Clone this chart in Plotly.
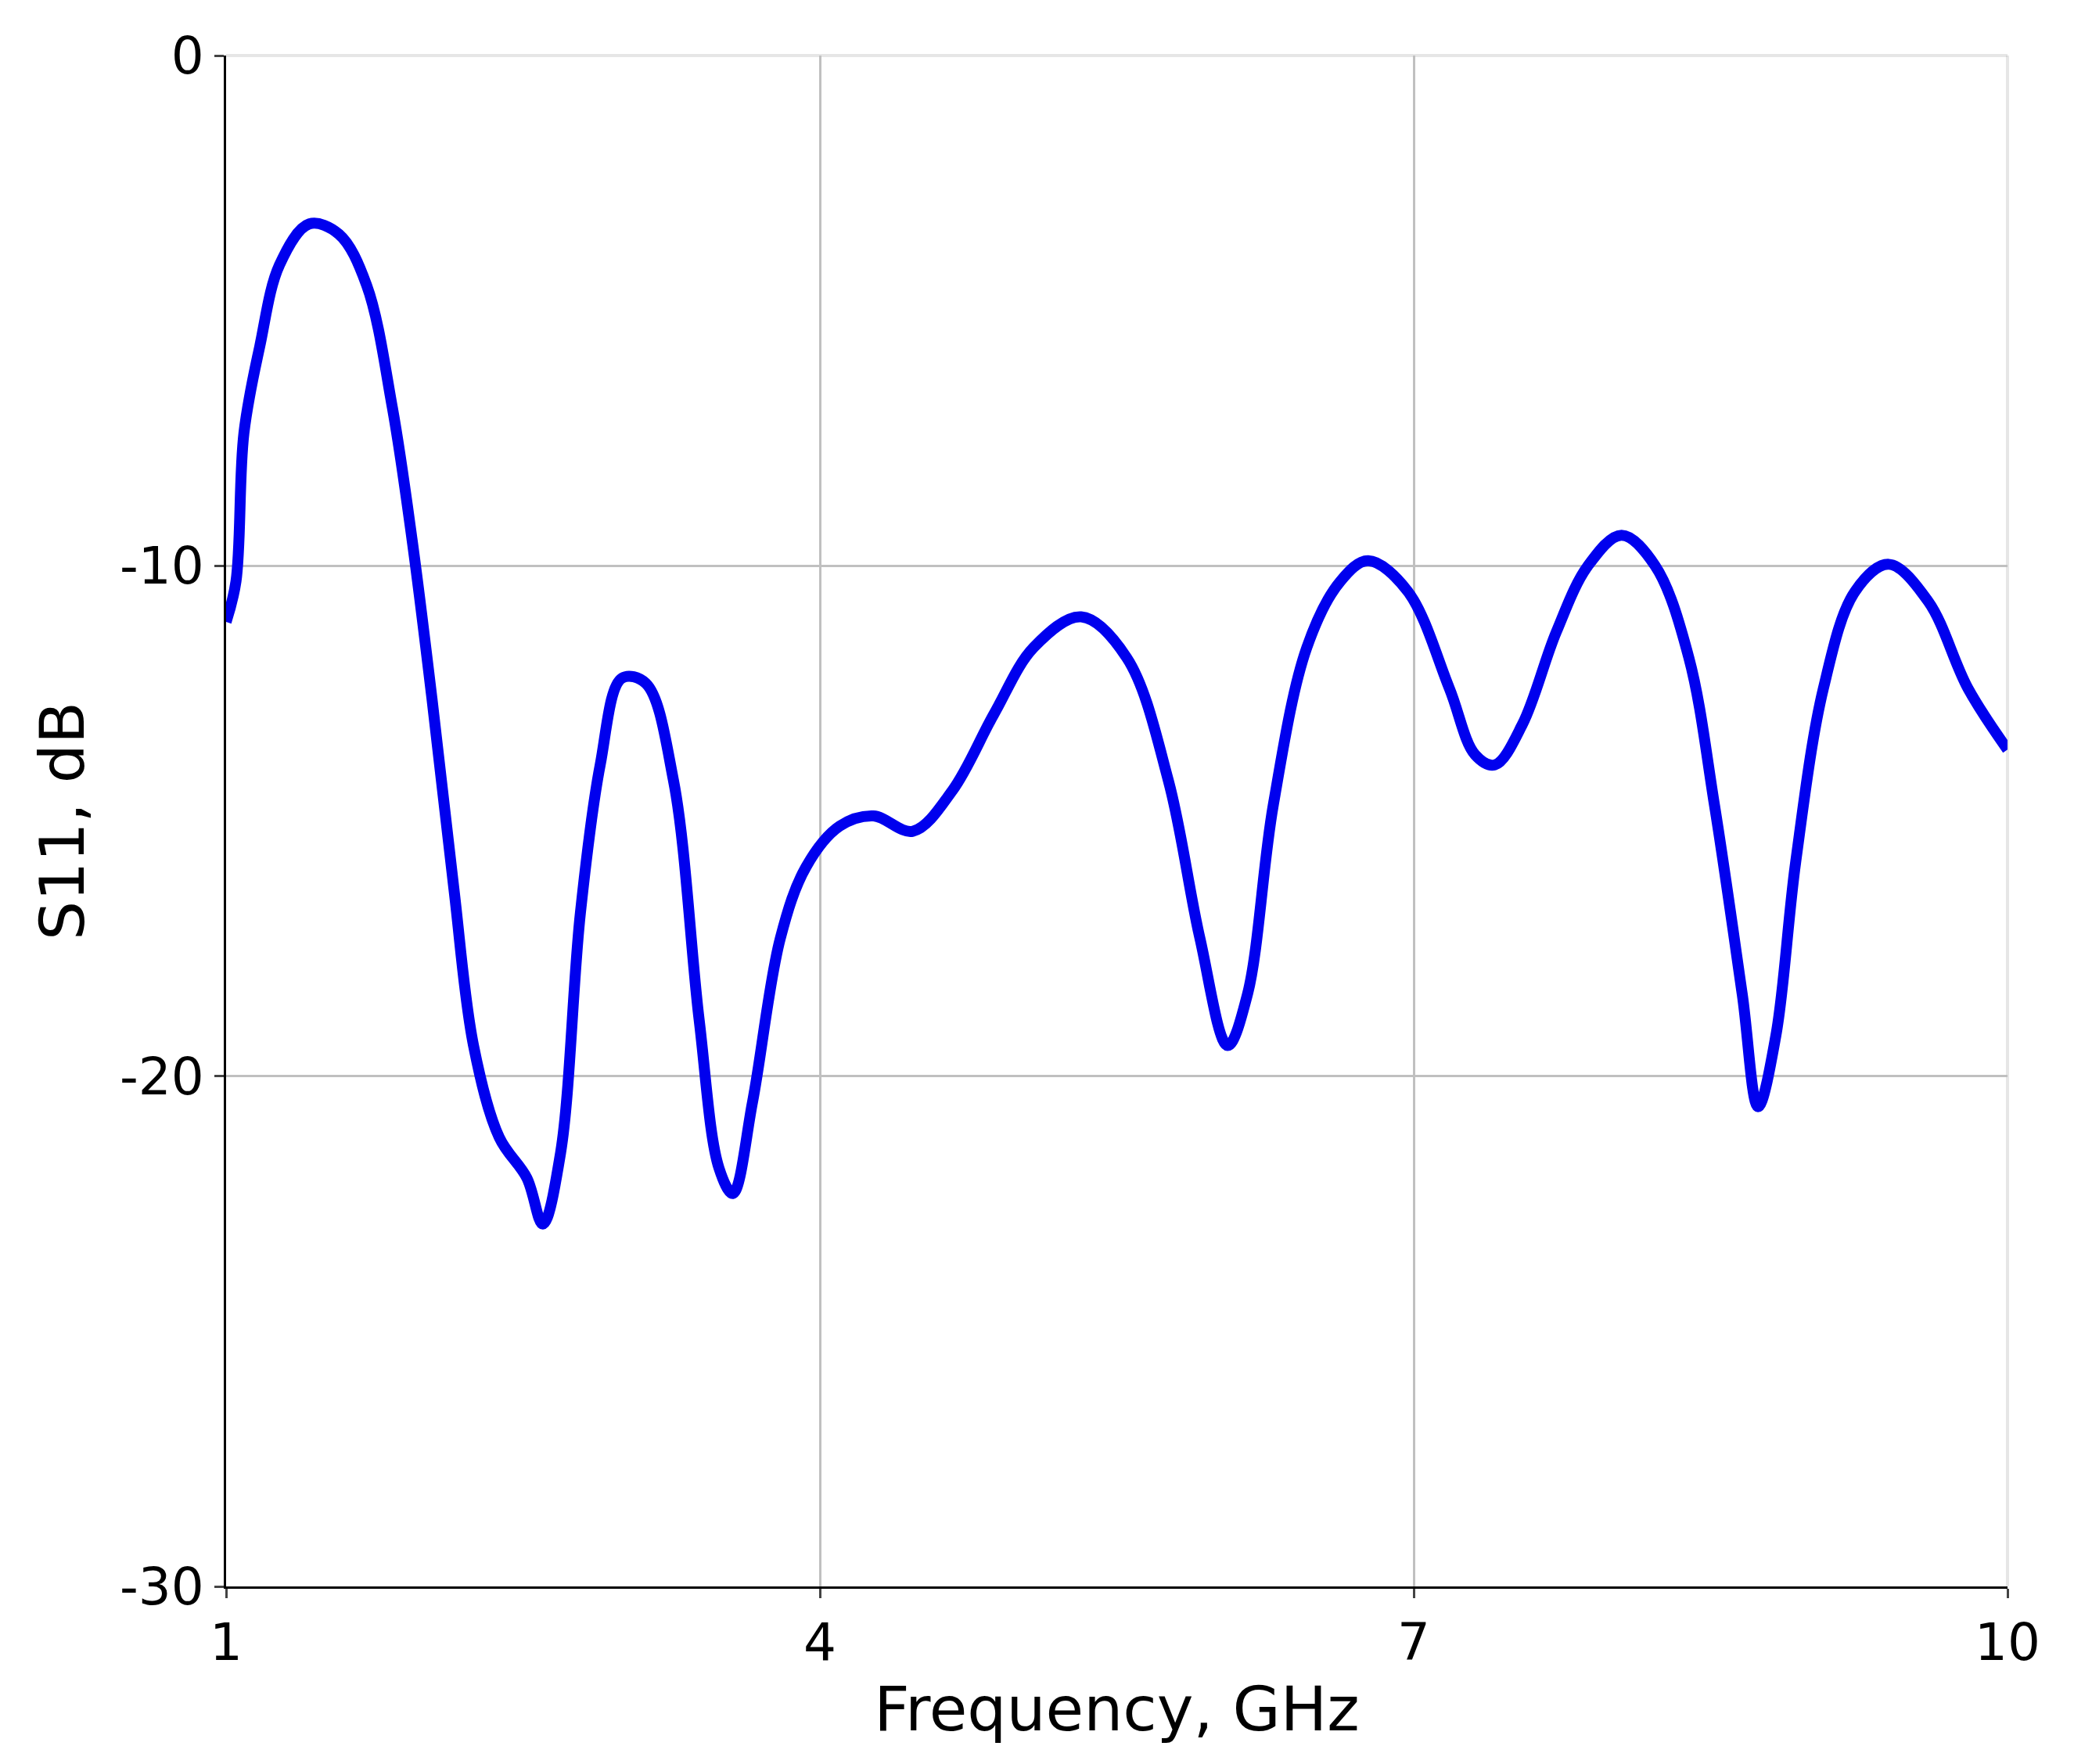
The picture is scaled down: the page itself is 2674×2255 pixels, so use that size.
import plotly.graph_objects as go

freq = [1.0, 1.05, 1.09, 1.17, 1.27, 1.42, 1.57, 1.71, 1.84, 1.94, 2.04, 2.15, 2.25, 2.38, 2.52, 2.6,
        2.69, 2.79, 2.89, 3.0, 3.12, 3.26, 3.39, 3.49, 3.56, 3.66, 3.8, 3.93, 4.1, 4.27, 4.47, 4.67,
        4.88, 5.08, 5.32, 5.55, 5.76, 5.92, 6.06, 6.16, 6.29, 6.46, 6.63, 6.77, 6.97, 7.18, 7.31,
        7.41, 7.55, 7.72, 7.88, 8.05, 8.22, 8.39, 8.52, 8.66, 8.74, 8.83, 8.93, 9.07, 9.23, 9.4,
        9.6, 9.8, 10.0]
s11 = [-11.1, -10.3, -7.4, -5.7, -4.1, -3.3, -3.5, -4.5, -6.9, -9.5, -12.6, -16.3, -19.4, -21.2, -22.0, -22.9,
       -21.5, -16.8, -13.9, -12.2, -12.3, -14.2, -18.9, -21.8, -22.3, -20.5, -17.3, -15.9, -15.1, -14.9, -15.2, -14.4,
       -12.9, -11.6, -11.0, -11.8, -14.2, -17.3, -19.4, -18.4, -14.7, -11.6, -10.3, -9.9, -10.5, -12.4, -13.7,
       -13.9, -13.1, -11.3, -10.0, -9.4, -10.0, -11.8, -14.7, -18.4, -20.6, -19.2, -15.8, -12.4, -10.5, -9.97,
       -10.7, -12.4, -13.6]
y_ticks = [0, -10, -20, -30]
y_labels = ['0', '-10', '-20', '-30']

fig = go.Figure(go.Scatter(x=freq, y=s11, mode='lines', line=dict(color='#0000ee', width=14, shape='spline')))

font = dict(family='DejaVu Sans', size=66, color='black')
fig.update_layout(
    width=2674, height=2255, template='simple_white', showlegend=False,
    margin=dict(l=281, r=116, t=63, b=235),
    font=font, plot_bgcolor='white', paper_bgcolor='white',
)
fig.update_xaxes(range=[1, 10], tickvals=[1, 4, 7, 10], showgrid=True, gridcolor='#c0c0c0', gridwidth=3,
                 linecolor='black', linewidth=3, ticks='outside', ticklen=12, tickwidth=3,
                 title=dict(text='Frequency, GHz', standoff=20))
fig.update_yaxes(range=[-30, 0], tickvals=y_ticks, ticktext=y_labels, showgrid=True, gridcolor='#c0c0c0', gridwidth=3,
                 linecolor='black', linewidth=3, ticks='outside', ticklen=12, tickwidth=3,
                 title=dict(text='S11, dB', standoff=20))
fig.add_shape(type='line', xref='paper', yref='paper', x0=0, y0=1, x1=1, y1=1,
              line=dict(color='#b0b0b0', width=4), layer='below')
fig.add_shape(type='line', xref='paper', yref='paper', x0=1, y0=0, x1=1, y1=1,
              line=dict(color='#b0b0b0', width=4), layer='below')
fig.write_html("out.html")
